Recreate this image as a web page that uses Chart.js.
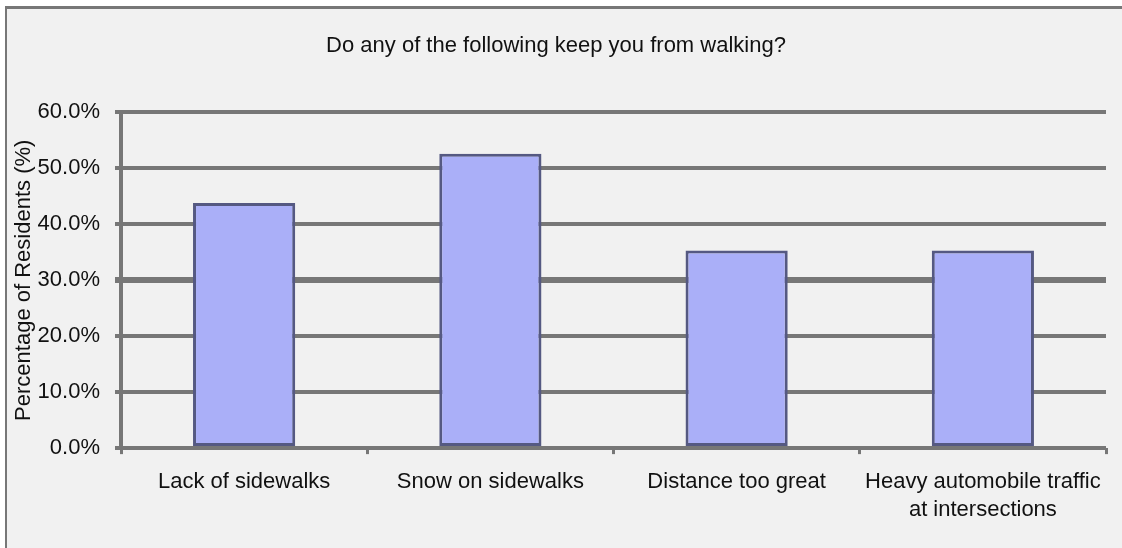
<!DOCTYPE html>
<html>
<head>
<meta charset="utf-8">
<script src="https://cdn.jsdelivr.net/npm/chart.js@4/dist/chart.umd.min.js"></script>
<style>
    html, body { margin: 0; padding: 0; background: #fff; }
    #wrap { width: 1122px; height: 548px; }
</style>
</head>
<body>
<div id="wrap"><canvas id="walkChart" width="1122" height="548"></canvas></div>
<script>
// Chart data
const categories = [
    'Lack of sidewalks',
    'Snow on sidewalks',
    'Distance too great',
    ['Heavy automobile traffic', 'at intersections']
];
const residentPct = [43.8, 52.6, 35.3, 35.3];
const yTicks = [0, 10, 20, 30, 40, 50, 60];

const gridGray = '#777777';
const fontFamily = "'Liberation Sans', Arial, sans-serif";

// Panel background with top/left frame like the source image
const panelBackground = {
    id: 'panelBackground',
    beforeDraw(chart) {
        const ctx = chart.ctx;
        ctx.save();
        ctx.fillStyle = '#ffffff';
        ctx.fillRect(0, 0, chart.width, chart.height);
        ctx.fillStyle = '#f1f1f1';
        ctx.fillRect(6, 8, chart.width - 6, chart.height - 8);
        ctx.strokeStyle = gridGray;
        ctx.lineWidth = 3;
        ctx.beginPath();
        ctx.moveTo(5, 7.5);
        ctx.lineTo(chart.width, 7.5);
        ctx.stroke();
        ctx.lineWidth = 2;
        ctx.beginPath();
        ctx.moveTo(6, 6);
        ctx.lineTo(6, chart.height);
        ctx.stroke();
        ctx.restore();
    }
};

const ctx = document.getElementById('walkChart').getContext('2d');
new Chart(ctx, {
    type: 'bar',
    data: {
        labels: categories,
        datasets: [{
            label: 'Percentage of Residents (%)',
            data: residentPct,
            backgroundColor: '#aaaff8',
            borderColor: '#555982',
            borderWidth: 3,
            borderSkipped: false,
            categoryPercentage: 1.0,
            barPercentage: 0.415
        }]
    },
    options: {
        responsive: false,
        animation: false,
        devicePixelRatio: 1,
        layout: { padding: { top: 20, left: 6, right: 16, bottom: 10 } },
        plugins: {
            legend: { display: false },
            tooltip: { enabled: false },
            title: {
                display: true,
                text: 'Do any of the following keep you from walking?',
                color: '#111',
                font: { family: fontFamily, size: 22, weight: 'normal' },
                padding: { top: 13, bottom: 53 }
            }
        },
        scales: {
            x: {
                offset: true,
                grid: {
                    offset: true,
                    drawOnChartArea: false,
                    drawTicks: true,
                    tickLength: 6,
                    color: gridGray,
                    lineWidth: 3
                },
                border: { display: false },
                ticks: {
                    color: '#111',
                    font: { family: fontFamily, size: 22, lineHeight: 1.27 },
                    padding: 14,
                    maxRotation: 0,
                    minRotation: 0,
                    autoSkip: false
                }
            },
            y: {
                min: 0,
                max: 60,
                afterBuildTicks: (scale) => {
                    scale.ticks = yTicks.map(v => ({ value: v }));
                },
                afterFit: (scale) => { scale.width = 115; },
                grid: {
                    color: gridGray,
                    lineWidth: (c) => (c.tick && c.tick.value === 30 ? 6 : 4),
                    drawTicks: true,
                    tickLength: 6
                },
                border: { display: true, color: gridGray, width: 4 },
                ticks: {
                    color: '#111',
                    font: { family: fontFamily, size: 22 },
                    padding: 15,
                    callback: (value) => value.toFixed(1) + '%'
                },
                title: {
                    display: true,
                    text: 'Percentage of Residents (%)',
                    color: '#111',
                    font: { family: fontFamily, size: 22, weight: 'normal' },
                    padding: { top: 5, bottom: 0 }
                }
            }
        }
    },
    plugins: [panelBackground]
});
</script>
</body>
</html>
